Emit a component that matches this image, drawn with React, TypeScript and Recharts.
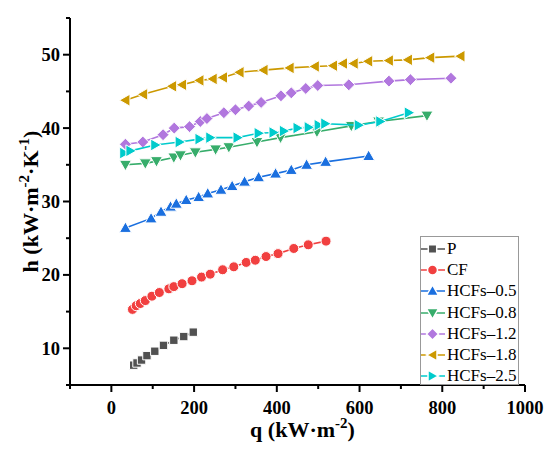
import React from "react";
import { ScatterChart, Scatter, XAxis, YAxis, Legend, Label } from "recharts";

// [q, h] pairs
const pPoints = [
  [54, 7.7], [62, 8.0], [73, 8.4], [86, 9.0], [105, 9.6], [126, 10.4],
  [151, 11.1], [175, 11.6], [198, 12.2],
];
const cfPoints = [
  [51, 15.3], [60, 15.8], [70, 16.1], [82, 16.5], [98, 17.1], [116, 17.6],
  [139, 18.1], [151, 18.4], [171, 18.8], [195, 19.2], [218, 19.7], [239, 20.1],
  [269, 20.7], [296, 21.1], [326, 21.7], [348, 22.0], [374, 22.5], [403, 22.9],
  [441, 23.6], [476, 24.1], [519, 24.6],
];
const hcf05Points = [
  [34, 26.4], [96, 27.7], [120, 28.6], [143, 29.3], [157, 29.7], [181, 30.2],
  [211, 30.6], [233, 31.1], [265, 31.6], [292, 32.1], [322, 32.7], [356, 33.3],
  [397, 33.8], [435, 34.3], [472, 35.0], [518, 35.4], [622, 36.2],
];
const hcf08Points = [
  [34, 35.0], [82, 35.2], [109, 35.5], [151, 36.0], [167, 36.3], [203, 36.7],
  [252, 37.1], [284, 37.4], [352, 38.1], [409, 38.7], [497, 39.5], [580, 40.3],
  [646, 40.9], [763, 41.7],
];
const hcf12Points = [
  [34, 37.8], [76, 38.1], [125, 39.1], [152, 40.0], [189, 40.2], [215, 40.9],
  [231, 41.3], [272, 42.1], [300, 42.5], [332, 43.0], [362, 43.5], [410, 44.4],
  [435, 44.8], [470, 45.4], [499, 45.8], [574, 45.9], [671, 46.4], [723, 46.6],
  [821, 46.8],
];
const hcf18Points = [
  [34, 43.8], [77, 44.6], [147, 45.7], [171, 45.9], [213, 46.5], [245, 46.7],
  [270, 46.9], [310, 47.6], [368, 47.9], [431, 48.2], [492, 48.4], [536, 48.5],
  [560, 48.8], [586, 48.8], [621, 49.1], [671, 49.2], [717, 49.3], [771, 49.6],
  [844, 49.8],
];
const hcf25Points = [
  [31, 36.6], [46, 36.9], [106, 37.7], [165, 38.1], [213, 38.5], [239, 38.7],
  [305, 38.7], [356, 39.3], [392, 39.4], [417, 39.6], [450, 40.0], [477, 40.1],
  [501, 40.4], [517, 40.6], [598, 40.4], [650, 40.9], [719, 42.1],
];

const seriesNames = ["P", "CF", "HCFs\u20130.5", "HCFs\u20130.8", "HCFs\u20131.2", "HCFs\u20131.8", "HCFs\u20132.5"];
const seriesColors = ["#515151", "#F14040", "#1A6FDF", "#37AD6B", "#B177DE", "#CC9900", "#00CBCC"];
const seriesShapes = ["square", "circle", "up", "down", "diamond", "left", "right"];
const seriesPoints = [pPoints, cfPoints, hcf05Points, hcf08Points, hcf12Points, hcf18Points, hcf25Points];

const xTicks = [-100, 0, 100, 200, 300, 400, 500, 600, 700, 800, 900, 1000];
const yTicks = [5, 10, 15, 20, 25, 30, 35, 40, 45, 50, 55];

const serif = "'Times New Roman', 'Liberation Serif', serif";

const markerPath = (kind: string, cx: number, cy: number) => {
  switch (kind) {
    case "square":
      return `M${cx - 4.2},${cy - 4.2}h8.4v8.4h-8.4z`;
    case "up":
      return `M${cx},${cy - 6}L${cx + 6},${cy + 4.5}L${cx - 6},${cy + 4.5}z`;
    case "down":
      return `M${cx},${cy + 6}L${cx + 6},${cy - 4.5}L${cx - 6},${cy - 4.5}z`;
    case "left":
      return `M${cx - 6},${cy}L${cx + 4.5},${cy - 6}L${cx + 4.5},${cy + 6}z`;
    case "right":
      return `M${cx + 6},${cy}L${cx - 4.5},${cy - 6}L${cx - 4.5},${cy + 6}z`;
    case "diamond":
      return `M${cx},${cy - 6}L${cx + 6},${cy}L${cx},${cy + 6}L${cx - 6},${cy}z`;
    default:
      return `M${cx - 5},${cy}a5,5 0 1,0 10,0a5,5 0 1,0 -10,0`;
  }
};

const makeShape = (kind: string, color: string) => (props: any) => (
  <path d={markerPath(kind, props.cx, props.cy)} fill={color} stroke="#fff" strokeWidth={1} />
);

const renderXTick = (props: any) => {
  const { x, y, payload } = props;
  const major = payload.value % 200 === 0;
  return (
    <g>
      <line x1={x} y1={y} x2={x} y2={y + (major ? 7 : 4)} stroke="#000" strokeWidth={2} />
      {major && (
        <text x={x} y={y + 29} textAnchor="middle" fontFamily={serif} fontWeight="bold" fontSize={18.5} fill="#000">
          {payload.value}
        </text>
      )}
    </g>
  );
};

const renderYTick = (props: any) => {
  const { x, y, payload } = props;
  const major = payload.value % 10 === 0;
  return (
    <g>
      <line x1={x} y1={y} x2={x - (major ? 7 : 4)} y2={y} stroke="#000" strokeWidth={2} />
      {major && (
        <text x={x - 10} y={y} dy="0.35em" textAnchor="end" fontFamily={serif} fontWeight="bold" fontSize={18.5} fill="#000">
          {payload.value}
        </text>
      )}
    </g>
  );
};

const renderXTitle = (props: any) => {
  const vb = props.viewBox;
  return (
    <text x={vb.x + vb.width / 2 + 5} y={vb.y + 52} textAnchor="middle" fontFamily={serif} fontWeight="bold" fontSize={22} fill="#000">
      q (kW·m<tspan dy={-9} fontSize={15}>-2</tspan><tspan dy={9}>)</tspan>
    </text>
  );
};

const renderYTitle = (props: any) => {
  const vb = props.viewBox;
  const cx = vb.x + 28;
  const cy = vb.y + vb.height / 2;
  return (
    <text x={cx} y={cy} transform={`rotate(-90 ${cx} ${cy})`} textAnchor="middle" fontFamily={serif} fontWeight="bold" fontSize={22} fill="#000">
      h (kW·m<tspan dy={-9} fontSize={15}>-2</tspan><tspan dy={9}>·K</tspan>
      <tspan dy={-9} fontSize={15}>-1</tspan><tspan dy={9}>)</tspan>
    </text>
  );
};

const renderLegend = () => (
  <div
    style={{
      border: "1px solid #999",
      background: "#fff",
      width: 99,
      height: 149,
      boxSizing: "border-box",
      paddingTop: 1,
      fontFamily: serif,
      fontSize: 17,
      color: "#000",
    }}
  >
    {seriesNames.map((name, i) => (
      <div key={name} style={{ display: "flex", alignItems: "center", height: 21.3, whiteSpace: "nowrap" }}>
        <svg width={24} height={14} style={{ flex: "none" }}>
          <line x1={0} y1={7} x2={24} y2={7} stroke={seriesColors[i]} strokeWidth={1.5} />
          <path d={markerPath(seriesShapes[i], 11.5, 7)} fill={seriesColors[i]} stroke="#fff" strokeWidth={1.5} />
        </svg>
        <span style={{ marginLeft: 2 }}>{name}</span>
      </div>
    ))}
  </div>
);

export default function App() {
  return (
    <div style={{ position: "absolute", left: 0, top: 0 }}>
      <ScatterChart width={550} height={455} margin={{ top: 18, right: 25, bottom: 0, left: 10 }}>
        <XAxis
          type="number"
          dataKey="q"
          domain={[-100, 1000]}
          ticks={xTicks}
          interval={0}
          allowDataOverflow
          height={70}
          tickSize={0}
          tickMargin={0}
          tickLine={false}
          tick={renderXTick}
          axisLine={{ stroke: "#000", strokeWidth: 2 }}
        >
          <Label content={renderXTitle} />
        </XAxis>
        <XAxis xAxisId="top" orientation="top" type="number" domain={[-100, 1000]} height={0} tick={false} tickLine={false} axisLine={{ stroke: "#000", strokeWidth: 2 }} />
        <YAxis
          type="number"
          dataKey="h"
          domain={[5, 55]}
          ticks={yTicks}
          interval={0}
          allowDataOverflow
          width={60}
          tickSize={0}
          tickMargin={0}
          tickLine={false}
          tick={renderYTick}
          axisLine={{ stroke: "#000", strokeWidth: 2 }}
        >
          <Label content={renderYTitle} />
        </YAxis>
        <YAxis yAxisId="right" orientation="right" type="number" domain={[5, 55]} width={0} tick={false} tickLine={false} axisLine={{ stroke: "#000", strokeWidth: 2 }} />
        {seriesPoints.map((pts, i) => (
          <Scatter
            key={seriesNames[i]}
            name={seriesNames[i]}
            data={pts.map(([q, h]) => ({ q, h }))}
            fill={seriesColors[i]}
            line={{ stroke: seriesColors[i], strokeWidth: 1.6 }}
            lineType="joint"
            shape={makeShape(seriesShapes[i], seriesColors[i])}
            isAnimationActive={false}
          />
        ))}
        <Legend
          layout="vertical"
          align="center"
          verticalAlign="middle"
          content={renderLegend}
          wrapperStyle={{ left: 420, top: 236, width: 99, height: 149 }}
        />
      </ScatterChart>
    </div>
  );
}
